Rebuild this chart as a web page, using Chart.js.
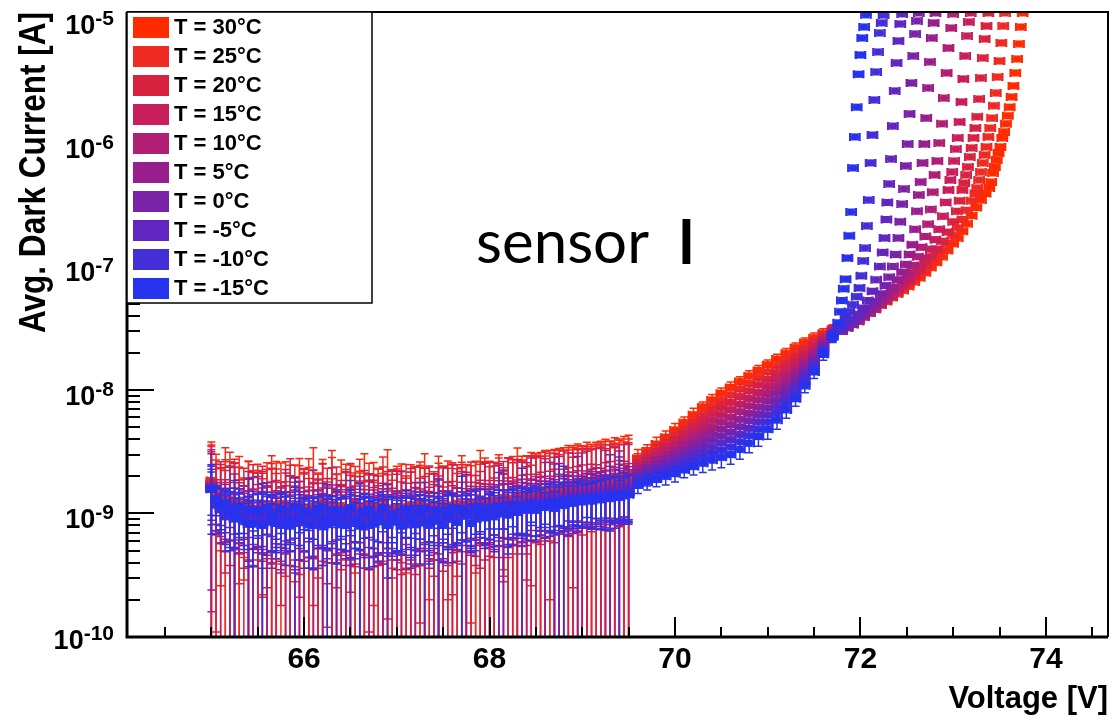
<!DOCTYPE html>
<html>
<head>
<meta charset="utf-8">
<script src="https://cdn.jsdelivr.net/npm/chart.js@4.4.0/dist/chart.umd.min.js"></script>
<style>
  html, body { margin: 0; padding: 0; background: #fff; }
  #graficoIV { display: block; }
</style>
</head>
<body>
<canvas id="graficoIV" width="1113" height="721"></canvas>
<script>
// temperatures and colours of the ten runs
const temps = [30, 25, 20, 15, 10, 5, 0, -5, -10, -15];
const colors = ['#ff2a00', '#ee2a22', '#d82240', '#c81f5c', '#b01f74', '#981e8e', '#7a22a8', '#6226c0', '#442ed8', '#2632ee'];

// axis ticks
const xTicks = [66, 68, 70, 72, 74];
const yExps = [-10, -9, -8, -7, -6, -5];

// common voltage grid [V]
const volts = [
  65.00,65.05,65.10,65.15,65.20,65.25,65.30,65.35,65.40,65.45,
  65.50,65.55,65.60,65.65,65.70,65.75,65.80,65.85,65.90,65.95,
  66.00,66.05,66.10,66.15,66.20,66.25,66.30,66.35,66.40,66.45,
  66.50,66.55,66.60,66.65,66.70,66.75,66.80,66.85,66.90,66.95,
  67.00,67.05,67.10,67.15,67.20,67.25,67.30,67.35,67.40,67.45,
  67.50,67.55,67.60,67.65,67.70,67.75,67.80,67.85,67.90,67.95,
  68.00,68.05,68.10,68.15,68.20,68.25,68.30,68.35,68.40,68.45,
  68.50,68.55,68.60,68.65,68.70,68.75,68.80,68.85,68.90,68.95,
  69.00,69.05,69.10,69.15,69.20,69.25,69.30,69.35,69.40,69.45,69.50,
  69.6,69.7,69.8,69.9,70.0,70.1,70.2,70.3,70.4,70.5,70.6,70.7,70.8,70.9,71.0,71.1,71.2,71.3,71.4,71.5,71.6,71.7
];

// dark current on the grid [nA] and its error [nA]
const cur30 = [
  1.85,1.42,1.31,1.36,1.18,1.27,1.14,1.09,1.22,1.05, 0.98,1.17,1.08,1.12,0.94,1.21,1.06,1.01,1.13,1.19,
  1.07,0.96,1.15,1.03,1.24,1.10,0.99,1.04,1.16,0.97, 1.12,1.23,1.00,1.09,0.95,1.14,1.02,1.26,1.08,1.01,
  1.11,0.97,1.13,1.07,1.00,1.20,1.09,1.15,1.03,1.10, 1.18,1.06,1.12,1.21,1.09,1.17,1.24,1.11,1.19,1.27,
  1.20,1.29,1.24,1.35,1.28,1.33,1.39,1.31,1.42,1.47, 1.40,1.52,1.46,1.58,1.55,1.63,1.60,1.70,1.66,1.76,
  1.73,1.82,1.79,1.88,1.85,1.94,1.91,2.00,1.97,2.06,2.10,
  2.80,3.20,3.65,4.15,4.75,5.45,6.30,7.30,8.30,9.40,10.5,11.7,13.0,14.4,16.0,17.8,19.8,22.0,24.2,26.5,28.8,31.0
];
const err30 = [
  1.95,1.60,1.05,2.05,1.45,1.30,1.75,0.80,1.40,1.10, 1.25,0.95,1.50,1.20,1.70,1.35,0.75,1.45,0.85,1.60,
  1.20,1.40,2.25,1.10,1.50,0.70,1.85,1.05,1.55,1.30, 1.35,0.90,1.20,1.95,1.10,1.45,1.30,0.85,2.20,1.25,
  1.30,1.55,0.80,1.10,1.40,1.25,1.95,0.95,1.15,1.45, 1.25,1.60,1.35,0.90,1.85,1.30,1.20,1.50,2.05,1.35,
  1.45,1.30,1.75,1.00,1.55,1.40,2.00,1.60,1.50,1.65, 1.55,1.60,1.70,1.65,1.75,1.70,1.80,1.85,1.75,1.90,
  1.80,1.95,1.85,1.90,2.00,2.05,1.95,2.10,2.05,2.15,2.20,
  0.5,0.4,0.5,0.5,0.6,0.6,0.8,0.7,0.9,1.0,1.1,1.1,1.3,1.4,1.5,1.7,1.9,2.0,2.2,2.4,2.6,2.8
];
const cur25 = [
  1.78,1.36,1.40,1.22,1.29,1.16,1.08,1.19,1.11,1.02, 1.10,1.06,0.97,1.18,1.01,1.09,1.13,0.96,1.17,1.04,
  1.00,1.12,0.98,1.08,1.14,1.02,1.19,0.97,1.07,1.01, 0.99,1.10,1.15,1.03,1.20,0.98,1.08,1.02,0.96,1.11,
  1.04,1.13,0.99,1.18,1.07,1.01,1.12,0.97,1.09,1.16, 1.06,1.00,1.17,1.10,1.05,1.19,1.08,1.15,1.21,1.12,
  1.23,1.17,1.26,1.21,1.31,1.25,1.34,1.30,1.39,1.36, 1.44,1.40,1.49,1.46,1.54,1.51,1.59,1.56,1.64,1.61,
  1.68,1.66,1.73,1.70,1.78,1.76,1.82,1.80,1.87,1.85,1.92,
  2.65,3.00,3.39,3.83,4.34,4.94,5.66,6.49,7.33,8.23,9.14,10.2,11.3,12.6,14.0,15.7,17.6,19.8,22.1,24.7,27.6,30.5
];
const err25 = [
  1.70,1.35,0.90,1.50,1.85,1.20,1.30,0.75,1.55,1.20, 1.40,0.85,1.30,1.75,1.10,0.70,1.50,1.05,1.30,1.40,
  1.15,1.65,0.80,1.00,1.40,1.30,2.05,1.10,0.65,1.50, 1.05,1.30,1.60,1.10,1.35,0.80,1.20,1.85,1.10,0.75,
  1.25,1.05,1.50,1.30,0.70,1.60,1.25,1.40,1.00,1.75, 1.30,0.80,1.40,1.20,1.55,1.30,0.95,1.50,1.30,1.70,
  1.40,1.25,1.55,0.90,1.50,1.65,1.40,1.35,1.55,1.10, 1.60,1.50,1.75,1.60,1.70,1.85,1.65,1.70,1.90,1.75,
  1.80,1.85,1.75,1.90,1.95,1.85,2.00,1.90,2.05,1.95,2.10,
  0.4,0.4,0.4,0.5,0.5,0.6,0.6,0.7,0.8,0.9,0.9,1.0,1.1,1.3,1.4,1.6,1.8,2.0,2.2,2.4,2.6,2.9
];
const cur20 = [
  1.74,1.31,1.22,1.28,1.12,1.20,1.07,1.13,0.99,1.08, 1.02,1.11,0.95,1.04,1.09,0.98,1.03,1.12,0.96,1.07,
  1.01,0.92,1.05,1.10,0.97,1.02,0.91,1.08,1.00,1.04, 1.09,0.99,0.93,1.03,1.11,0.97,1.01,1.08,0.94,1.02,
  0.98,1.10,1.01,0.96,1.07,1.03,1.12,0.98,1.06,1.01, 1.09,1.13,1.02,1.08,1.16,1.06,1.11,1.18,1.09,1.15,
  1.19,1.14,1.23,1.18,1.27,1.22,1.30,1.26,1.34,1.31, 1.38,1.35,1.42,1.40,1.47,1.44,1.51,1.49,1.55,1.53,
  1.60,1.57,1.63,1.61,1.67,1.65,1.71,1.69,1.75,1.73,1.79,
  2.51,2.82,3.16,3.53,3.96,4.48,5.08,5.78,6.47,7.21,7.95,8.83,9.83,11.0,12.2,13.8,15.7,17.8,20.2,23.0,26.4,30.1
];
const err20 = [
  1.85,1.20,1.40,0.95,1.30,1.55,0.80,1.20,0.90,1.40, 1.10,1.30,0.70,1.50,1.20,0.80,1.10,1.65,1.00,0.75,
  1.30,1.00,1.20,0.80,1.55,0.90,1.00,1.30,0.65,1.10, 1.45,1.00,0.90,1.20,0.75,1.10,1.00,1.30,0.80,1.20,
  1.10,0.70,1.00,1.20,1.30,0.90,1.20,1.45,0.75,1.00, 1.30,1.20,0.80,1.40,1.20,1.00,1.50,0.85,1.10,1.40,
  1.20,1.45,1.30,0.90,1.55,1.35,1.30,1.45,1.05,1.60, 1.45,1.55,1.50,1.20,1.60,1.55,1.70,1.60,1.30,1.75,
  1.70,1.80,1.65,1.75,1.85,1.70,1.90,1.80,1.85,1.90,1.95,
  0.4,0.4,0.4,0.4,0.5,0.5,0.6,0.6,0.7,0.8,0.8,0.9,1.0,1.2,1.3,1.5,1.7,1.9,2.1,2.4,2.7,3.0
];
const cur15 = [
  1.69,1.28,1.19,1.23,1.08,1.14,1.17,1.01,1.09,0.98, 1.07,0.99,1.03,1.10,0.90,1.00,1.08,0.97,1.02,0.91,
  0.99,1.04,1.09,0.92,1.01,0.97,1.05,0.90,1.08,0.98, 0.93,1.02,0.99,1.07,0.96,0.91,1.03,0.99,1.09,0.95,
  1.00,0.92,1.06,1.01,0.97,1.08,0.99,1.03,1.07,1.05, 0.99,1.08,1.10,1.01,1.09,1.06,1.14,1.08,1.11,1.17,
  1.15,1.19,1.14,1.24,1.19,1.26,1.23,1.29,1.27,1.32, 1.33,1.36,1.38,1.40,1.43,1.45,1.48,1.50,1.53,1.55,
  1.57,1.59,1.61,1.63,1.65,1.67,1.69,1.71,1.73,1.75,1.77,
  2.37,2.64,2.94,3.25,3.62,4.06,4.57,5.14,5.71,6.31,6.92,7.67,8.55,9.55,10.7,12.2,13.9,16.0,18.5,21.4,25.3,29.6
];
const err15 = [
  1.60,0.60,1.30,0.65,0.70,1.40,0.60,0.65,1.10,0.60, 0.65,1.20,0.60,0.70,0.95,0.65,0.60,1.05,0.65,0.70,
  1.10,0.60,0.65,0.95,0.60,0.70,1.30,0.65,0.60,1.20, 0.70,0.65,1.00,0.60,0.85,0.95,0.65,0.60,1.10,0.65,
  1.20,0.60,0.70,1.30,0.65,0.70,1.00,0.60,0.65,1.30, 0.65,0.70,1.40,0.60,0.70,1.10,0.65,0.70,0.75,1.40,
  0.70,0.75,0.70,1.40,0.75,0.70,1.50,0.75,0.80,1.50, 0.75,0.80,1.40,0.80,0.85,1.45,0.80,0.85,1.55,0.85,
  0.90,1.60,0.90,0.85,1.75,0.90,0.95,1.70,0.95,0.90,1.85,
  0.35,0.35,0.4,0.4,0.45,0.5,0.5,0.55,0.6,0.7,0.7,0.8,0.9,1.0,1.1,1.3,1.5,1.7,1.9,2.2,2.5,3.0
];
const cur10 = [
  1.66,1.22,1.18,1.09,1.17,1.06,0.98,1.08,0.97,1.06, 0.99,0.96,1.08,0.89,0.98,1.01,1.07,0.88,0.97,1.02,
  0.91,0.99,1.03,0.96,0.88,1.06,1.00,0.97,0.90,1.01, 0.98,0.89,1.02,0.96,1.00,1.07,0.90,0.99,1.03,0.92,
  0.97,1.01,0.95,0.89,1.06,0.98,1.02,0.96,1.00,1.07, 0.98,1.03,1.08,1.05,0.99,1.09,1.06,1.10,1.15,1.07,
  1.13,1.09,1.16,1.14,1.18,1.21,1.17,1.24,1.22,1.26, 1.29,1.31,1.30,1.35,1.36,1.38,1.41,1.42,1.45,1.47,
  1.49,1.51,1.53,1.55,1.57,1.58,1.61,1.62,1.65,1.66,1.69,
  2.24,2.48,2.73,3.00,3.30,3.68,4.10,4.57,5.04,5.53,6.02,6.67,7.44,8.33,9.37,10.7,12.4,14.4,16.9,20.0,24.2,29.2
];
const err10 = [
  1.50,0.55,0.60,0.50,1.20,0.55,0.50,0.60,0.55,0.50, 1.00,0.55,0.60,0.50,0.55,0.60,1.20,0.50,0.55,0.60,
  0.50,0.55,1.20,0.60,0.50,0.55,0.60,0.50,0.95,0.55, 0.60,0.50,0.55,0.60,1.10,0.55,0.50,0.60,0.55,0.50,
  0.55,1.20,0.60,0.50,0.55,0.60,0.50,0.55,1.10,0.60, 0.55,0.50,0.60,0.55,1.20,0.50,0.60,0.55,0.60,0.65,
  0.60,0.55,1.30,0.60,0.65,0.60,0.70,0.65,1.35,0.60, 0.70,0.65,0.70,0.65,1.50,0.70,0.65,0.75,0.70,0.75,
  1.60,0.70,0.75,0.80,0.75,1.65,0.80,0.75,0.85,0.80,0.85,
  0.3,0.35,0.35,0.4,0.4,0.45,0.5,0.5,0.55,0.6,0.65,0.7,0.8,0.9,1.0,1.1,1.3,1.5,1.8,2.0,2.4,2.9
];
const cur5 = [
  1.64,1.19,1.10,1.17,1.06,1.09,0.97,1.07,0.96,1.01, 0.98,1.06,0.87,0.99,1.02,0.88,0.97,1.03,0.95,0.87,
  1.00,0.89,0.98,1.02,0.86,0.97,0.90,1.01,0.96,0.88, 0.99,1.03,0.87,0.96,0.89,1.00,0.98,0.86,0.97,1.02,
  0.90,0.96,1.01,0.97,0.88,0.99,1.03,0.91,0.98,1.00, 0.96,1.01,0.98,1.06,0.99,1.02,1.08,1.00,1.07,1.10,
  1.08,1.11,1.15,1.10,1.17,1.16,1.19,1.18,1.21,1.25, 1.26,1.27,1.29,1.32,1.33,1.35,1.38,1.39,1.41,1.44,
  1.45,1.47,1.49,1.51,1.53,1.54,1.56,1.58,1.60,1.62,1.64,
  2.12,2.32,2.54,2.77,3.02,3.33,3.69,4.07,4.45,4.84,5.23,5.79,6.47,7.26,8.20,9.45,11.0,13.0,15.5,18.6,23.2,28.7
];
const err5 = [
  1.40,0.50,0.45,0.55,0.45,1.00,0.50,0.45,0.55,0.50, 0.45,0.55,0.90,0.50,0.45,0.55,0.50,0.45,0.60,0.95,
  0.50,0.45,0.55,0.50,0.90,0.45,0.50,0.55,0.45,0.50, 0.55,0.45,0.90,0.50,0.45,0.55,0.50,0.90,0.45,0.50,
  0.55,0.50,0.45,0.55,0.90,0.50,0.45,0.55,0.50,0.45, 0.55,0.50,0.45,0.55,0.50,1.05,0.45,0.55,0.50,0.55,
  0.50,0.60,0.55,1.15,0.55,0.60,0.50,0.60,0.55,0.65, 0.60,0.55,1.30,0.60,0.55,0.65,0.60,0.65,0.60,1.45,
  0.60,0.65,0.70,0.60,0.65,0.70,0.65,0.70,1.60,0.70,0.75,
  0.3,0.3,0.3,0.35,0.35,0.4,0.4,0.45,0.5,0.5,0.55,0.6,0.7,0.8,0.9,1.0,1.1,1.3,1.6,1.9,2.3,2.8
];
const cur0 = [
  1.61,1.18,1.07,1.10,1.05,0.97,1.08,0.95,0.99,1.01, 0.88,0.99,1.02,0.86,0.98,0.96,0.87,1.01,0.89,0.97,
  0.86,0.99,0.90,0.87,1.00,0.88,0.97,0.85,0.91,0.99, 0.87,0.92,0.98,0.86,0.99,0.89,0.91,0.98,0.86,0.90,
  0.99,0.87,0.91,0.98,0.88,0.97,0.90,0.99,0.87,0.96, 0.98,0.90,0.99,0.97,1.01,0.96,1.00,1.06,0.98,1.07,
  1.06,1.09,1.05,1.11,1.08,1.14,1.10,1.16,1.15,1.18, 1.20,1.22,1.23,1.25,1.27,1.29,1.31,1.33,1.34,1.37,
  1.38,1.40,1.42,1.44,1.45,1.47,1.49,1.51,1.53,1.54,1.56,
  2.01,2.18,2.36,2.55,2.76,3.02,3.31,3.62,3.92,4.24,4.55,5.03,5.63,6.33,7.17,8.33,9.80,11.7,14.2,17.3,22.2,28.3
];
const err0 = [
  0.80,0.45,0.50,0.40,0.45,0.45,0.50,0.40,0.35,0.95, 0.40,0.45,0.35,0.50,0.45,0.40,0.35,0.40,0.90,0.45,
  0.50,0.40,0.45,0.35,0.45,0.45,0.40,0.85,0.40,0.50, 0.45,0.40,0.40,0.50,0.35,0.45,0.45,0.40,0.85,0.45,
  0.50,0.40,0.45,0.35,0.50,0.45,0.40,0.40,0.35,0.95, 0.40,0.50,0.45,0.40,0.40,0.35,0.50,0.45,0.40,0.50,
  0.45,0.55,0.50,1.10,0.45,0.50,0.55,0.50,0.60,0.45, 0.55,0.50,0.60,0.55,1.25,0.50,0.60,0.55,0.65,0.50,
  0.60,0.55,0.65,0.60,0.70,0.55,1.50,0.60,0.70,0.60,0.70,
  0.25,0.3,0.3,0.3,0.35,0.35,0.4,0.4,0.45,0.45,0.5,0.55,0.6,0.7,0.8,0.9,1.0,1.2,1.4,1.7,2.2,2.8
];
const curM5 = [
  1.58,1.17,1.09,1.06,0.98,1.08,0.96,1.00,0.97,0.87, 0.99,0.97,0.86,1.00,0.88,0.98,0.96,0.85,0.99,0.87,
  0.89,0.98,0.86,0.97,0.88,0.90,0.99,0.85,0.97,0.88, 0.90,0.99,0.86,0.89,0.98,0.87,0.97,0.88,0.90,0.99,
  0.87,0.91,0.98,0.86,0.90,0.97,0.88,0.91,0.98,0.87, 0.97,0.99,0.90,0.98,0.96,1.00,0.97,1.01,0.99,1.06,
  1.01,1.07,1.05,1.08,1.06,1.10,1.08,1.13,1.11,1.15, 1.16,1.18,1.19,1.21,1.22,1.24,1.26,1.27,1.29,1.31,
  1.32,1.34,1.35,1.37,1.39,1.40,1.42,1.43,1.45,1.47,1.49,
  1.90,2.04,2.20,2.35,2.52,2.74,2.97,3.22,3.46,3.72,3.96,4.37,4.89,5.52,6.28,7.34,8.72,10.5,12.9,16.1,21.3,27.8
];
const errM5 = [
  0.70,0.45,0.35,0.50,0.45,0.40,0.35,0.45,0.95,0.35, 0.45,0.50,0.40,0.35,0.45,0.45,0.40,0.35,0.95,0.45,
  0.40,0.35,0.50,0.45,0.35,0.40,0.40,0.45,0.35,0.45, 0.95,0.40,0.35,0.45,0.45,0.35,0.50,0.40,0.45,0.35,
  0.45,0.45,0.35,0.50,0.40,0.35,0.90,0.45,0.40,0.45, 0.35,0.45,0.50,0.40,0.35,0.45,0.45,0.40,0.35,0.50,
  0.45,0.40,1.10,0.45,0.50,0.55,0.45,0.50,0.45,0.55, 0.50,0.45,0.55,0.50,0.55,1.30,0.50,0.55,0.50,0.60,
  0.55,0.50,0.60,0.55,0.60,0.65,0.55,0.60,0.55,0.65,0.60,
  0.25,0.25,0.25,0.3,0.3,0.3,0.35,0.35,0.4,0.4,0.45,0.5,0.55,0.6,0.7,0.8,0.9,1.1,1.3,1.6,2.1,2.7
];
const curM10 = [
  1.57,1.22,1.10,0.94,1.12,0.90,1.04,0.99,0.82,1.07, 0.93,0.81,1.08,0.85,1.02,0.80,1.05,0.91,0.83,1.10,
  0.84,1.03,0.80,0.95,1.09,0.82,0.87,1.06,0.81,0.97, 1.08,0.83,0.90,1.04,0.80,0.96,0.86,1.11,0.82,0.92,
  0.88,1.05,0.81,0.94,1.09,0.84,0.91,0.80,1.06,0.87, 0.93,1.08,1.01,0.85,1.10,0.95,1.04,0.90,1.13,0.98,
  1.02,1.12,0.99,1.15,1.04,1.13,1.08,1.18,1.06,1.20, 1.16,1.12,1.22,1.15,1.25,1.18,1.28,1.21,1.30,1.26,
  1.31,1.28,1.35,1.30,1.37,1.33,1.40,1.36,1.42,1.39,1.45,
  1.80,1.92,2.04,2.17,2.30,2.48,2.67,2.87,3.06,3.25,3.45,3.80,4.26,4.82,5.49,6.47,7.76,9.45,11.8,15.0,20.4,27.4
];
const errM10 = [
  0.60,0.40,0.30,0.45,0.35,0.95,0.40,0.30,0.45,0.35, 0.30,0.45,0.40,0.35,0.40,0.30,0.45,0.35,0.50,0.40,
  0.35,0.30,0.45,0.40,0.30,0.90,0.35,0.45,0.30,0.40, 0.35,0.40,0.40,0.30,0.45,0.35,0.45,0.40,0.30,0.45,
  0.40,0.35,0.30,0.50,0.40,0.45,0.35,0.30,0.40,1.00, 0.35,0.40,0.45,0.30,0.40,0.35,0.50,0.40,0.45,0.35,
  0.40,0.45,0.35,0.40,0.50,0.45,0.40,1.15,0.45,0.40, 0.50,0.45,0.40,0.50,0.55,0.45,0.50,0.55,0.45,0.50,
  0.55,0.50,0.60,0.55,0.50,0.60,0.55,0.60,1.45,0.55,0.60,
  0.2,0.25,0.25,0.25,0.3,0.3,0.3,0.35,0.35,0.4,0.4,0.45,0.5,0.55,0.65,0.75,0.85,1.0,1.2,1.5,2.0,2.7
];
const curM15 = [
  1.58,1.31,1.15,1.22,1.05,0.93,1.14,0.86,1.08,0.82, 1.06,0.80,1.12,0.95,0.83,1.09,0.88,0.79,1.13,0.90,
  1.04,0.81,0.97,1.10,0.78,0.92,1.07,0.84,1.00,0.80, 1.11,0.87,0.79,1.03,1.08,0.82,0.94,1.12,0.80,0.98,
  0.85,0.79,1.09,0.93,0.81,1.02,1.10,0.84,0.90,1.06, 0.80,0.96,1.11,0.85,1.05,0.99,0.83,1.13,1.01,0.92,
  1.10,0.94,1.15,1.05,0.97,1.18,1.02,1.14,1.08,1.20, 1.06,1.17,1.12,1.23,1.10,1.25,1.16,1.27,1.21,1.30,
  1.24,1.33,1.26,1.36,1.29,1.38,1.32,1.41,1.35,1.43,1.42,
  1.7,1.8,1.9,2.0,2.1,2.25,2.4,2.55,2.7,2.85,3.0,3.3,3.7,4.2,4.8,5.7,6.9,8.5,10.8,14,19.5,27
];
const errM15 = [
  0.90,0.35,0.45,0.30,0.55,0.40,0.45,0.35,0.30,0.45, 0.40,0.95,0.30,0.45,0.35,0.40,0.50,0.30,0.50,0.35,
  0.30,0.45,0.35,0.25,0.40,0.40,0.30,0.45,0.35,0.30, 0.45,0.35,0.95,0.40,0.30,0.45,0.35,0.30,0.50,0.40,
  0.35,0.30,0.45,0.40,0.35,0.40,0.30,0.45,0.35,0.30, 0.40,0.45,0.35,0.30,0.95,0.40,0.35,0.45,0.30,0.40,
  0.35,0.45,0.40,0.30,0.50,0.40,0.35,0.45,0.40,0.35, 0.45,0.40,0.35,0.50,0.40,0.45,1.25,0.40,0.45,0.50,
  0.45,0.40,0.50,0.45,0.55,0.50,0.60,0.55,0.50,0.55,0.60,
  0.25,0.25,0.25,0.3,0.3,0.3,0.35,0.4,0.45,0.5,0.5,0.55,0.6,0.7,0.8,0.9,1.0,1.1,1.3,1.6,2.1,2.8
];

// breakdown tails, voltage [V] and current [nA]
const tailV30 = [71.80,71.86,71.92,71.98,72.04,72.10,72.16,72.22,72.28,72.34,72.40,72.46,72.52,72.58,72.64,72.70,72.76,72.82,72.88,72.94,73.00,73.05,73.10,73.15,73.20,73.25,73.30,73.35,73.39,73.41,73.43,73.45,73.47,73.49,73.51,73.53,73.55,73.57,73.59,73.61,73.63,73.65,73.67,73.69,73.71,73.73,73.75];
const tailI30 = [33,35,37,39,41,43,46,49,52,56,60,64,69,75,81,89,98,108,120,135,153,170,193,222,258,300,345,390,432,483,572,640,728,830,929,1100,1230,1430,1660,1950,2360,2900,3690,4790,6340,8690,11300];
const tailV25 = [71.80,71.86,71.92,71.98,72.04,72.10,72.16,72.22,72.28,72.34,72.40,72.46,72.52,72.58,72.64,72.70,72.76,72.82,72.88,72.94,73.00,73.05,73.10,73.15,73.20,73.24,73.26,73.28,73.30,73.32,73.34,73.36,73.38,73.40,73.42,73.44,73.46,73.48,73.50,73.52,73.54,73.56];
const tailI25 = [32,34,36,38,40,43,46,49,53,57,61,66,72,79,87,96,107,120,136,155,178,205,240,285,340,390,432,501,582,689,800,929,1120,1320,1590,2000,2540,3420,4610,6460,8850,11300];
const tailV20 = [71.80,71.86,71.92,71.98,72.04,72.10,72.16,72.22,72.28,72.34,72.40,72.46,72.52,72.58,72.64,72.70,72.76,72.82,72.88,72.94,73.00,73.04,73.07,73.10,73.12,73.14,73.16,73.18,73.20,73.22,73.24,73.26,73.28,73.30,73.32,73.34,73.36,73.38];
const tailI20 = [31,33,35,37,40,42,45,49,53,57,62,68,75,83,93,105,120,138,160,190,230,280,340,416,474,551,640,771,912,1100,1320,1630,2270,3360,4880,6950,8850,11300];
const tailV15 = [71.80,71.86,71.92,71.98,72.04,72.10,72.16,72.22,72.28,72.34,72.40,72.46,72.52,72.58,72.64,72.70,72.76,72.81,72.85,72.89,72.92,72.95,72.97,72.99,73.01,73.03,73.05,73.07,73.09,73.11,73.13,73.15,73.17,73.19];
const tailI15 = [30,32,34,36,39,42,45,49,53,58,64,71,79,89,101,117,138,165,200,255,330,416,501,582,715,893,1100,1480,2150,3300,5060,7350,9550,11300];
const tailV10 = [71.80,71.86,71.92,71.98,72.04,72.10,72.16,72.22,72.28,72.34,72.40,72.46,72.52,72.57,72.62,72.66,72.70,72.73,72.76,72.78,72.80,72.83,72.85,72.88,72.90,72.93,72.95,72.98,73.00];
const tailI10 = [30,32,34,36,39,42,46,50,55,61,68,77,88,102,120,143,175,220,290,400,551,715,1000,1430,2310,3690,5870,8530,11100];
const tailV5 = [71.80,71.86,71.92,71.98,72.04,72.10,72.16,72.22,72.28,72.34,72.40,72.45,72.49,72.53,72.56,72.59,72.61,72.63,72.65,72.67,72.69,72.71,72.73,72.75,72.77,72.79,72.81];
const tailI5 = [30,32,34,37,40,44,48,53,59,67,78,90,104,125,150,200,280,379,483,689,980,1590,2790,4530,7080,9380,11300];
const tailV0 = [71.80,71.86,71.92,71.98,72.04,72.10,72.16,72.22,72.27,72.31,72.35,72.38,72.41,72.43,72.45,72.47,72.49,72.51,72.53,72.55,72.57,72.59,72.61,72.63];
const tailI0 = [30,32,35,38,42,46,52,60,70,82,100,125,170,230,320,425,652,980,1720,3060,5060,7640,9730,11300];
const tailVM5 = [71.80,71.86,71.92,71.98,72.03,72.08,72.13,72.17,72.21,72.24,72.26,72.28,72.29,72.31,72.33,72.35,72.37,72.39,72.41,72.43,72.45];
const tailIM5 = [31,34,37,41,46,53,63,78,100,130,170,240,330,466,741,1370,2640,4450,6700,9200,11100];
const tailVM10 = [71.76,71.80,71.84,71.88,71.92,71.96,71.99,72.01,72.03,72.05,72.07,72.09,72.11,72.13,72.15,72.17,72.19,72.21,72.23,72.25];
const tailIM10 = [31,34,38,43,49,57,67,84,111,141,213,345,690,1160,2230,3760,5460,7780,9380,10860];
const tailVM15 = [71.76,71.78,71.80,71.82,71.84,71.86,71.88,71.90,71.92,71.94,71.96,71.98,72.00,72.02,72.04,72.06];
const tailIM15 = [35,43,53,66,79,117,177,276,628,1120,1950,3600,5160,7080,8700,10900];

const xErr = 0.05;   // voltage error [V]
const nA = 1e-9;

const curList = [cur30, cur25, cur20, cur15, cur10, cur5, cur0, curM5, curM10, curM15];
const errList = [err30, err25, err20, err15, err10, err5, err0, errM5, errM10, errM15];
const tailVList = [tailV30, tailV25, tailV20, tailV15, tailV10, tailV5, tailV0, tailVM5, tailVM10, tailVM15];
const tailIList = [tailI30, tailI25, tailI20, tailI15, tailI10, tailI5, tailI0, tailIM5, tailIM10, tailIM15];

const datasets = temps.map((t, k) => {
  const pts = [];
  const errs = [];
  const n = Math.min(volts.length, curList[k].length, errList[k].length);
  for (let i = 0; i < n; i++) {
    pts.push({x: volts[i], y: curList[k][i] * nA});
    errs.push(errList[k][i] * nA);
  }
  tailVList[k].forEach((v, i) => {
    pts.push({x: v, y: tailIList[k][i] * nA});
    errs.push(0);
  });
  return {
    label: 'T = ' + t + '°C',
    data: pts,
    yErr: errs,
    backgroundColor: colors[k],
    borderColor: colors[k],
    pointStyle: 'rect',
    pointRadius: 5,
    pointBorderWidth: 0,
    order: 9 - k
  };
});

const FONT = '"Liberation Sans", Arial, Helvetica, sans-serif';

// error bars drawn just before each dataset's markers
const errorBars = {
  id: 'errorBars',
  beforeDatasetDraw(chart, args) {
    const ds = chart.data.datasets[args.index];
    const xs = chart.scales.x, ys = chart.scales.y, a = chart.chartArea, ctx = chart.ctx;
    ctx.save();
    ctx.beginPath();
    ctx.rect(a.left, a.top, a.right - a.left, a.bottom - a.top);
    ctx.clip();
    ctx.strokeStyle = ds.borderColor;
    // vertical error bars
    ctx.lineWidth = 1.5;
    ctx.beginPath();
    ds.data.forEach((p, i) => {
      const e = ds.yErr[i];
      if (!(e > 0)) return;
      const px = xs.getPixelForValue(p.x);
      const yHi = ys.getPixelForValue(p.y + e);
      const lo = p.y - e;
      const yLo = lo > 0 ? ys.getPixelForValue(lo) : a.bottom + 20;
      ctx.moveTo(px, yLo); ctx.lineTo(px, yHi);
      ctx.moveTo(px - 4, yHi); ctx.lineTo(px + 4, yHi);
      if (lo > 0) { ctx.moveTo(px - 4, yLo); ctx.lineTo(px + 4, yLo); }
    });
    ctx.stroke();
    // horizontal error bars
    ctx.lineWidth = 2.5;
    ctx.beginPath();
    ds.data.forEach((p) => {
      const py = ys.getPixelForValue(p.y);
      const x1 = xs.getPixelForValue(p.x - xErr), x2 = xs.getPixelForValue(p.x + xErr);
      ctx.moveTo(x1, py); ctx.lineTo(x2, py);
      ctx.moveTo(x1, py - 4); ctx.lineTo(x1, py + 4);
      ctx.moveTo(x2, py - 4); ctx.lineTo(x2, py + 4);
    });
    ctx.stroke();
    ctx.restore();
  }
};

// ROOT style frame, ticks, labels, legend
const rootAxes = {
  id: 'rootAxes',
  afterDatasetsDraw(chart) {
    const ctx = chart.ctx, a = chart.chartArea, x = chart.scales.x, y = chart.scales.y;
    ctx.save();
    ctx.strokeStyle = '#000';
    ctx.fillStyle = '#000';

    // ticks (inside)
    ctx.lineWidth = 2;
    ctx.beginPath();
    for (let v = 64.5; v < x.max; v += 0.5) {
      const px = Math.round(x.getPixelForValue(v));
      const len = xTicks.includes(v) ? 20 : 10;
      ctx.moveTo(px, a.bottom); ctx.lineTo(px, a.bottom - len);
    }
    yExps.forEach((e) => {
      for (let m = 1; m <= 9; m++) {
        const val = m * Math.pow(10, e);
        if (val > y.max) break;
        const py = Math.round(y.getPixelForValue(val));
        ctx.moveTo(a.left, py); ctx.lineTo(a.left + (m === 1 ? 27 : 13), py);
      }
    });
    ctx.stroke();

    // frame
    ctx.lineWidth = 2;
    ctx.beginPath();
    ctx.moveTo(a.left, a.top); ctx.lineTo(a.right, a.top); ctx.lineTo(a.right, a.bottom);
    ctx.stroke();
    ctx.lineWidth = 3;
    ctx.beginPath();
    ctx.moveTo(a.left, a.top); ctx.lineTo(a.left, a.bottom); ctx.lineTo(a.right, a.bottom);
    ctx.stroke();

    // x tick labels
    ctx.font = 'bold 30px ' + FONT;
    ctx.textAlign = 'center';
    ctx.textBaseline = 'alphabetic';
    xTicks.forEach((v) => ctx.fillText(String(v), x.getPixelForValue(v), a.bottom + 31));

    // y tick labels 10^n
    ctx.textAlign = 'left';
    yExps.forEach((e) => {
      const py = y.getPixelForValue(Math.pow(10, e));
      ctx.font = 'bold 21px ' + FONT;
      const sup = String(e);
      const ws = ctx.measureText(sup).width;
      ctx.font = 'bold 27px ' + FONT;
      const wb = ctx.measureText('10').width;
      const right = a.left - 13;
      const base = e === -10 ? py + 12 : py + 15;
      ctx.fillText('10', right - ws - wb, base);
      ctx.font = 'bold 21px ' + FONT;
      ctx.fillText(sup, right - ws, base - 9);
    });

    // axis titles
    ctx.font = 'bold 31px ' + FONT;
    ctx.textAlign = 'right';
    ctx.fillText('Voltage [V]', a.right, 708);

    ctx.save();
    ctx.font = 'bold 37px ' + FONT;
    const ytitle = 'Avg. Dark Current [A]';
    const w = ctx.measureText(ytitle).width;
    ctx.translate(45, a.top);
    ctx.rotate(-Math.PI / 2);
    ctx.scale(321 / w, 1);
    ctx.textAlign = 'right';
    ctx.fillText(ytitle, 0, 0);
    ctx.restore();

    // legend box
    const lx = a.left, ly = a.top, lw = 245, lh = 291;
    ctx.fillStyle = '#fff';
    ctx.fillRect(lx, ly, lw, lh);
    ctx.lineWidth = 1.5;
    ctx.strokeStyle = '#000';
    ctx.strokeRect(lx, ly, lw, lh);
    ctx.font = 'bold 22px ' + FONT;
    ctx.textAlign = 'left';
    ctx.textBaseline = 'middle';
    chart.data.datasets.forEach((ds, i) => {
      const cy = ly + 15 + i * 29;
      ctx.fillStyle = ds.backgroundColor;
      ctx.fillRect(lx + 6, cy - 10, 36, 21);
      ctx.fillStyle = '#000';
      ctx.fillText(ds.label, lx + 47, cy + 1);
    });

    // plot annotation
    ctx.textBaseline = 'alphabetic';
    ctx.fillStyle = '#000';
    ctx.font = '60px Lato, "Open Sans", sans-serif';
    ctx.fillText('sensor', 476, 263);
    ctx.lineWidth = 2;
    ctx.strokeStyle = '#000';
    ctx.fillText('I', 678, 263);
    ctx.strokeText('I', 678, 263);

    ctx.restore();
  }
};

new Chart(document.getElementById('graficoIV'), {
  type: 'scatter',
  data: { datasets: datasets },
  options: {
    responsive: false,
    animation: false,
    events: [],
    layout: { padding: { left: 127, right: 5, top: 12, bottom: 84 } },
    scales: {
      x: { type: 'linear', min: 64.09, max: 74.67, display: false },
      y: { type: 'logarithmic', min: 1e-10, max: 1.15e-5, display: false }
    },
    plugins: {
      legend: { display: false },
      tooltip: { enabled: false }
    }
  },
  plugins: [errorBars, rootAxes]
});
</script>
</body>
</html>
